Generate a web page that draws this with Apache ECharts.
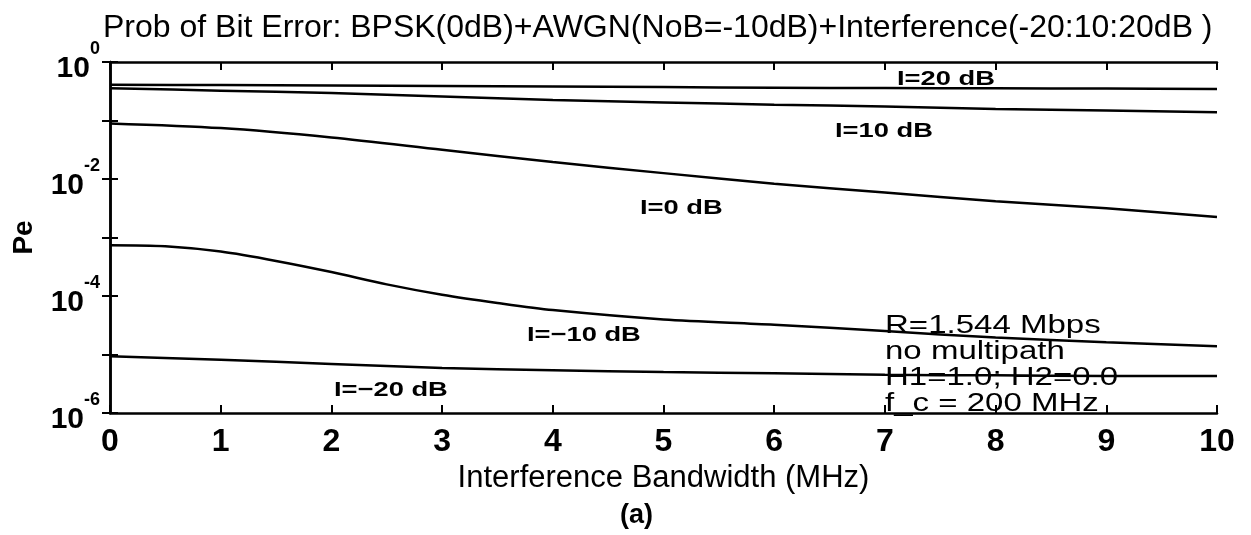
<!DOCTYPE html>
<html>
<head>
<meta charset="utf-8">
<script src="https://cdn.jsdelivr.net/npm/echarts@6/dist/echarts.min.js"></script>
<style>
    html, body { margin: 0; padding: 0; background: #fff; }
    #chart { width: 1251px; height: 535px; }
</style>
</head>
<body>
<div id="chart"></div>
<script>
// interference bandwidth (MHz)
const bw = [0, 1, 2, 3, 4, 5, 6, 7, 8, 9, 10]
const bwFine = [0, 0.5, 1, 1.5, 2, 2.5, 3, 3.5, 4, 5, 6, 7, 8, 9, 10]

// Pe, one array per interference level
const pe20 = [0.407, 0.403, 0.398, 0.389, 0.380, 0.372, 0.363, 0.359, 0.355, 0.351, 0.347]
const pe10 = [0.355, 0.324, 0.295, 0.257, 0.224, 0.204, 0.186, 0.174, 0.158, 0.148, 0.138]
const pe0 = [0.0891, 0.0741, 0.0513, 0.0316, 0.0195, 0.0126, 0.00832, 0.00589, 0.00417, 0.00316, 0.00225]
const peM10 = [7.4e-4, 7.1e-4, 5.75e-4, 3.98e-4, 2.57e-4, 1.58e-4, 1.05e-4, 7.6e-5, 5.75e-5, 3.98e-5, 3.24e-5, 2.51e-5, 1.95e-5, 1.62e-5, 1.38e-5]
const peM20 = [9.3e-6, 8.1e-6, 6.9e-6, 5.9e-6, 5.4e-6, 5.0e-6, 4.8e-6, 4.5e-6, 4.4e-6, 4.3e-6, 4.3e-6]

const xTicks = ['0', '1', '2', '3', '4', '5', '6', '7', '8', '9', '10']
const curveNames = ['I=20 dB', 'I=10 dB', 'I=0 dB', 'I=\u221210 dB', 'I=\u221220 dB']
const infoLines = ['R=1.544 Mbps', 'no multipath', 'H1=1.0; H2=0.0', 'f_c = 200 MHz']

const font = '"Liberation Sans", Arial, Helvetica, sans-serif'

const pair = (xs, ys) => xs.map((x, i) => [x, ys[i]])

const chart = echarts.init(document.getElementById('chart'))

const lineSeries = (name, data) => ({
    name: name,
    type: 'line',
    data: data,
    showSymbol: false,
    smooth: 0.3,
    lineStyle: { color: '#000', width: 2.5 },
    z: 3,
})

const tickStyle = { inside: true, length: 8, lineStyle: { color: '#000', width: 2 } }
const axisLine = { show: true, lineStyle: { color: '#000', width: 2.5 } }

// curve labels: left edge / vertical centre in pixels
const curveLabelPos = [[897, 79], [835, 131], [640, 208], [527, 335], [334, 390]]

chart.setOption({
    animation: false,
    backgroundColor: '#fff',
    title: {
        text: 'Prob of Bit Error: BPSK(0dB)+AWGN(NoB=-10dB)+Interference(-20:10:20dB )',
        left: 98,
        top: 7,
        textStyle: { fontFamily: font, fontSize: 32, fontWeight: 'normal', color: '#000' },
    },
    grid: { left: 110, right: 34, top: 62, bottom: 122 },
    xAxis: [{
        type: 'value',
        min: 0,
        max: 10,
        interval: 1,
        axisLine: axisLine,
        axisTick: tickStyle,
        splitLine: { show: false },
        axisLabel: {
            margin: 13,
            fontFamily: font,
            fontSize: 32,
            fontWeight: 'bold',
            color: '#000',
            formatter: v => xTicks[Math.round(v)],
        },
        name: 'Interference Bandwidth (MHz)',
        nameLocation: 'middle',
        nameGap: 50,
        nameTextStyle: { fontFamily: font, fontSize: 31, color: '#000' },
    }, {
        type: 'value',
        position: 'top',
        min: 0,
        max: 10,
        interval: 1,
        axisLine: axisLine,
        axisTick: tickStyle,
        axisLabel: { show: false },
        splitLine: { show: false },
    }],
    yAxis: [{
        type: 'log',
        logBase: 10,
        min: 1e-6,
        max: 1,
        interval: 1,
        axisLine: axisLine,
        axisTick: tickStyle,
        splitLine: { show: false },
        minorTick: { show: false },
        axisLabel: {
            margin: 10,
            formatter: v => {
                const e = Math.round(Math.log10(v))
                if (e % 2 !== 0) return ''
                return '{b|10}{s|' + e + '}'
            },
            rich: {
                b: { fontFamily: font, fontSize: 30, fontWeight: 'bold', color: '#000', verticalAlign: 'bottom', lineHeight: 38 },
                s: { fontFamily: font, fontSize: 18, fontWeight: 'bold', color: '#000', verticalAlign: 'top', lineHeight: 44 },
            },
        },
        name: 'Pe',
        nameLocation: 'middle',
        nameRotate: 90,
        nameGap: 72,
        nameTextStyle: { fontFamily: font, fontSize: 28, fontWeight: 'bold', color: '#000' },
    }, {
        type: 'log',
        logBase: 10,
        position: 'right',
        min: 1e-6,
        max: 1,
        interval: 1,
        axisLine: axisLine,
        axisTick: tickStyle,
        axisLabel: { show: false },
        splitLine: { show: false },
    }],
    series: [
        lineSeries(curveNames[0], pair(bw, pe20)),
        lineSeries(curveNames[1], pair(bw, pe10)),
        lineSeries(curveNames[2], pair(bw, pe0)),
        lineSeries(curveNames[3], pair(bwFine, peM10)),
        lineSeries(curveNames[4], pair(bw, peM20)),
    ],
    graphic: [
        ...curveNames.map((t, i) => ({
            type: 'text',
            x: curveLabelPos[i][0],
            y: curveLabelPos[i][1],
            scaleX: 1.3,
            z: 10,
            style: { text: t, font: 'bold 21px ' + font, fill: '#000', verticalAlign: 'middle' },
        })),
        ...infoLines.map((t, i) => ({
            type: 'text',
            x: 885,
            y: 326 + i * 26,
            scaleX: 1.27,
            z: 10,
            style: { text: t, font: '26px ' + font, fill: '#000', verticalAlign: 'middle' },
        })),
        {
            type: 'text',
            x: 620,
            y: 516,
            style: { text: '(a)', font: 'bold 27px ' + font, fill: '#000', verticalAlign: 'middle' },
        },
    ],
})
</script>
</body>
</html>
